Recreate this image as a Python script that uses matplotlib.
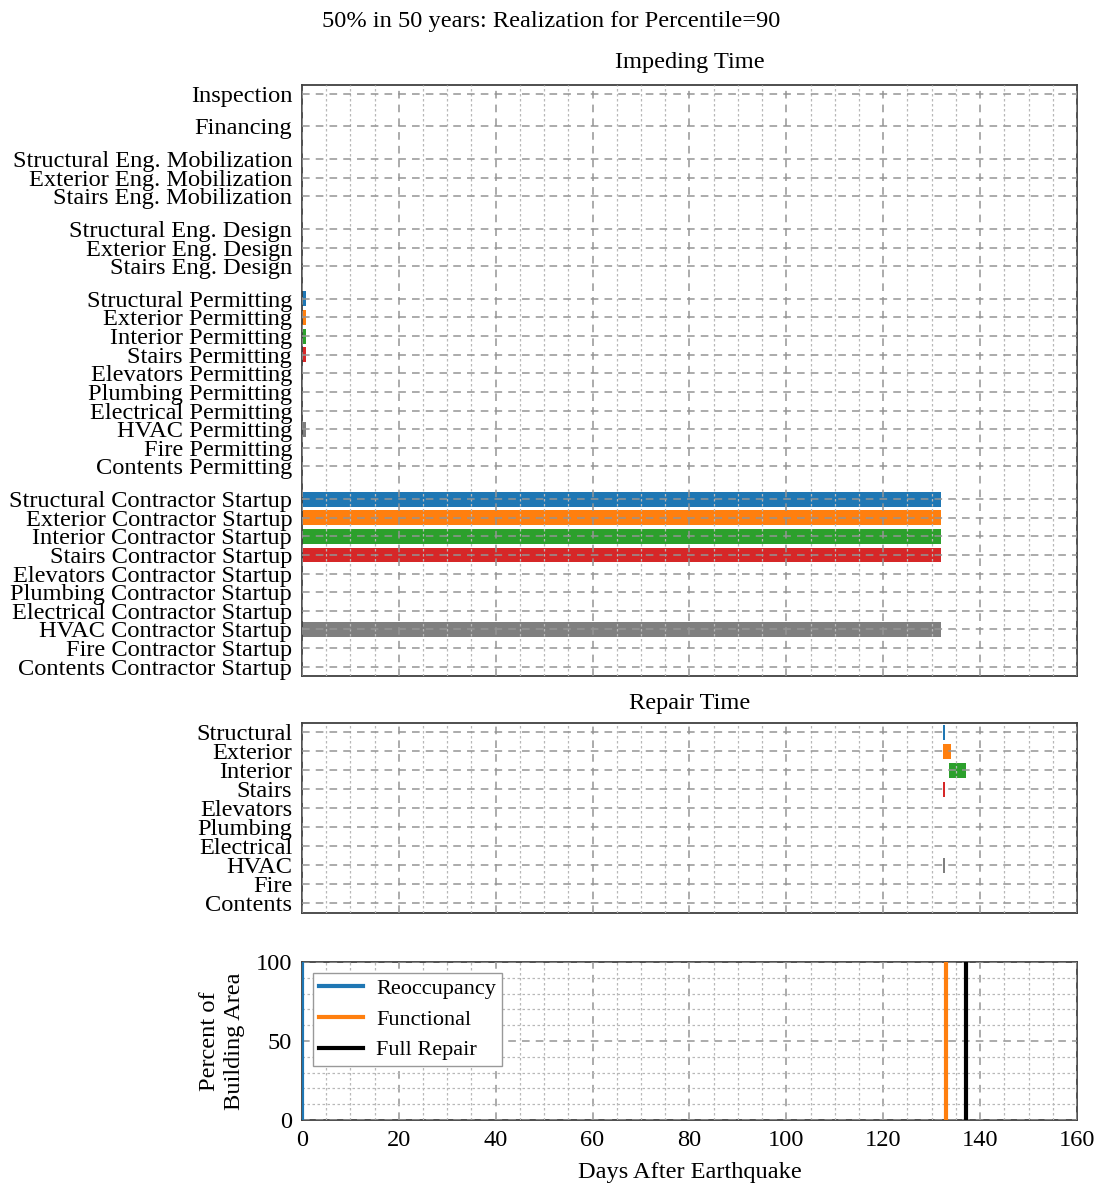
import matplotlib
matplotlib.use("Agg")
import matplotlib.pyplot as plt
from matplotlib.ticker import MultipleLocator
import numpy as np

plt.rcParams['font.family'] = ['Liberation Serif', 'DejaVu Serif']
plt.rcParams['font.size'] = 17.6

title = "50% in 50 years: Realization for Percentile=90"

systems = ["Structural", "Exterior", "Interior", "Stairs", "Elevators",
           "Plumbing", "Electrical", "HVAC", "Fire", "Contents"]
sys_colors = plt.get_cmap("tab10").colors

# impeding factor groups (labels and durations in days, all starting at day 0)
insp_labels = ["Inspection"]
insp_dur = [0.0]
fin_labels = ["Financing"]
fin_dur = [0.0]
mob_labels = ["Structural Eng. Mobilization", "Exterior Eng. Mobilization",
              "Stairs Eng. Mobilization"]
mob_dur = [0.0, 0.0, 0.0]
design_labels = ["Structural Eng. Design", "Exterior Eng. Design",
                 "Stairs Eng. Design"]
design_dur = [0.0, 0.0, 0.0]
permit_dur = [0.9, 0.9, 0.9, 0.9, 0, 0, 0, 0.9, 0, 0]
startup_dur = [131.9, 131.9, 131.9, 131.9, 0, 0, 0, 131.9, 0, 0]

# repair schedule per system (start day, end day)
repair_start = [132.4, 132.4, 133.5, 132.4, 0, 0, 0, 132.4, 0, 0]
repair_end = [132.8, 133.9, 137.0, 132.7, 0, 0, 0, 132.7, 0, 0]

# recovery days for the three states
recovery_labels = ["Reoccupancy", "Functional", "Full Repair"]
recovery_days = [0.0, 132.9, 137.0]
recovery_colors = ["tab:blue", "tab:orange", "black"]

xmax = 160


def style_axis(ax):
    ax.set_xlim(0, xmax)
    ax.xaxis.set_major_locator(MultipleLocator(20))
    ax.xaxis.set_minor_locator(MultipleLocator(5))
    ax.grid(which='major', axis='both', ls=(0, (5, 4)), color='0.58', lw=1.1, zorder=5)
    ax.grid(which='minor', axis='x', ls=(0, (2, 2)), color='0.72', lw=0.9, zorder=5)
    ax.set_axisbelow(False)
    ax.tick_params(which='both', length=0, pad=7)
    for s in ax.spines.values():
        s.set_color('0.25')
        s.set_linewidth(1.3)


fig = plt.figure(figsize=(11.02, 11.84), dpi=100)
fig.suptitle(title, x=0.5, y=0.991, fontsize=17.6)

# ---- impeding time ----
ax1 = fig.add_axes([0.274, 0.4290, 0.7033, 0.4996])
gap = 1.75
labels, ypos, width, colors = [], [], [], []
y = 0.0
groups = [
    (insp_labels, insp_dur, ['tab:blue']),
    (fin_labels, fin_dur, ['tab:blue']),
    (mob_labels, mob_dur, [sys_colors[0], sys_colors[1], sys_colors[3]]),
    (design_labels, design_dur, [sys_colors[0], sys_colors[1], sys_colors[3]]),
    ([s + " Permitting" for s in systems], permit_dur, list(sys_colors)),
    ([s + " Contractor Startup" for s in systems], startup_dur, list(sys_colors)),
]
for gi, (lab, dur, col) in enumerate(groups):
    if gi > 0:
        y += gap - 1
    for l, d, c in zip(lab, dur, col):
        labels.append(l)
        ypos.append(y)
        width.append(d)
        colors.append(c)
        y += 1
ypos = np.array(ypos)
ax1.barh(ypos, width, left=0, height=0.8, color=colors, zorder=2)
ax1.set_yticks(ypos)
ax1.set_yticklabels(labels)
ax1.set_ylim(ypos[-1] + 0.5, -0.5)
style_axis(ax1)
ax1.set_xticklabels([])
ax1.set_title("Impeding Time", fontsize=17.6, pad=12)

# ---- repair time ----
ax2 = fig.add_axes([0.274, 0.2289, 0.7033, 0.1605])
rpos = np.arange(len(systems))
ax2.barh(rpos, np.array(repair_end) - np.array(repair_start), left=repair_start,
         height=0.8, color=sys_colors, zorder=2)
ax2.set_yticks(rpos)
ax2.set_yticklabels(systems)
ax2.set_ylim(len(systems) - 0.5, -0.5)
style_axis(ax2)
ax2.set_xticklabels([])
ax2.set_title("Repair Time", fontsize=17.6, pad=10)

# ---- recovery ----
ax3 = fig.add_axes([0.274, 0.0541, 0.7033, 0.1334])
for lab, d, c in zip(recovery_labels, recovery_days, recovery_colors):
    ax3.plot([d, d], [0, 100], color=c, lw=3, label=lab, zorder=6)
ax3.set_ylim(0, 100)
ax3.yaxis.set_major_locator(MultipleLocator(50))
ax3.yaxis.set_minor_locator(MultipleLocator(10))
style_axis(ax3)
ax3.grid(which='minor', axis='y', ls=(0, (2, 2)), color='0.72', lw=0.9, zorder=5)
ax3.set_xlabel("Days After Earthquake", fontsize=17.6, labelpad=8)
ax3.set_ylabel("Percent of\nBuilding Area", fontsize=17.6, labelpad=8)
leg = ax3.legend(loc='upper left', fancybox=False, framealpha=1,
                 edgecolor='0.6', fontsize=16, borderpad=0.25,
                 handletextpad=0.6, labelspacing=0.45)

fig.savefig("out.png", dpi=100)
